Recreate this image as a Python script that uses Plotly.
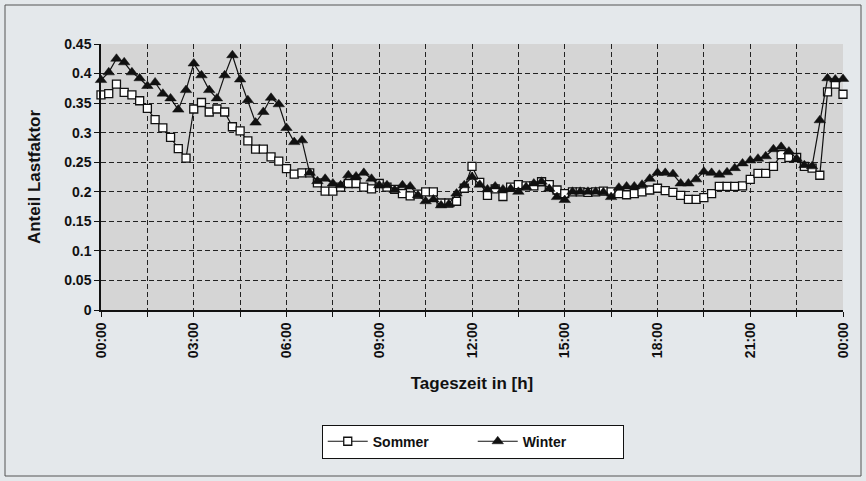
import plotly.graph_objects as go

# time of day in hours, one reading every 15 minutes (00:00 .. 24:00)
hours = [i / 4 for i in range(97)]

sommer = [
    0.364, 0.366, 0.382, 0.368, 0.364, 0.354, 0.341, 0.322, 0.308, 0.292,
    0.273, 0.257, 0.340, 0.351, 0.335, 0.340, 0.335, 0.310, 0.303, 0.286,
    0.272, 0.272, 0.259, 0.252, 0.239, 0.230, 0.232, 0.232, 0.215, 0.201,
    0.201, 0.208, 0.214, 0.214, 0.208, 0.205, 0.214, 0.208, 0.204, 0.197,
    0.193, 0.196, 0.200, 0.200, 0.181, 0.181, 0.184, 0.206, 0.243, 0.216,
    0.194, 0.205, 0.192, 0.208, 0.212, 0.210, 0.210, 0.217, 0.212, 0.203,
    0.197, 0.200, 0.200, 0.199, 0.200, 0.201, 0.200, 0.197, 0.195, 0.197,
    0.200, 0.203, 0.206, 0.202, 0.199, 0.194, 0.187, 0.187, 0.190, 0.197,
    0.209, 0.209, 0.209, 0.210, 0.221, 0.231, 0.231, 0.243, 0.263, 0.258,
    0.258, 0.243, 0.240, 0.228, 0.369, 0.382, 0.365,
]

winter = [
    0.389, 0.402, 0.425, 0.419, 0.402, 0.392, 0.379, 0.385, 0.366, 0.358,
    0.339, 0.372, 0.417, 0.397, 0.372, 0.358, 0.397, 0.431, 0.390, 0.355,
    0.317, 0.335, 0.359, 0.348, 0.308, 0.284, 0.287, 0.232, 0.218, 0.222,
    0.214, 0.211, 0.228, 0.226, 0.232, 0.222, 0.211, 0.211, 0.203, 0.211,
    0.209, 0.194, 0.184, 0.187, 0.177, 0.179, 0.197, 0.211, 0.225, 0.212,
    0.204, 0.209, 0.204, 0.205, 0.200, 0.208, 0.214, 0.217, 0.205, 0.191,
    0.186, 0.200, 0.200, 0.200, 0.200, 0.199, 0.191, 0.207, 0.209, 0.209,
    0.212, 0.222, 0.232, 0.232, 0.230, 0.214, 0.214, 0.221, 0.234, 0.232,
    0.229, 0.233, 0.240, 0.248, 0.253, 0.256, 0.260, 0.272, 0.276, 0.268,
    0.256, 0.245, 0.243, 0.321, 0.392, 0.390, 0.391,
]

tick_vals = [i * 1.5 for i in range(17)]
tick_text = ["00:00", "", "03:00", "", "06:00", "", "09:00", "", "12:00", "",
             "15:00", "", "18:00", "", "21:00", "", "00:00"]

FONT = "Arial, Liberation Sans, sans-serif"

fig = go.Figure()
fig.add_trace(go.Scatter(
    x=hours, y=sommer, name="Sommer", mode="lines+markers",
    line=dict(color="#111111", width=1.2),
    marker=dict(symbol="square", size=8, color="white",
                line=dict(color="#111111", width=1.3)),
    cliponaxis=False,
))
fig.add_trace(go.Scatter(
    x=hours, y=winter, name="Winter", mode="lines+markers",
    line=dict(color="#111111", width=1.2),
    marker=dict(symbol="triangle-up", size=10, color="#111111",
                line=dict(color="#111111", width=0.5)),
    cliponaxis=False,
))

fig.update_layout(
    width=866, height=481,
    margin=dict(l=101, r=23, t=44, b=171, autoexpand=False),
    paper_bgcolor="#e4e8eb",
    plot_bgcolor="#d5d5d5",
    font=dict(family=FONT, size=14, color="#111111", weight="bold"),
    showlegend=True,
    legend=dict(
        orientation="h", x=0.501, xanchor="center", y=-0.495, yanchor="middle",
        bgcolor="white", bordercolor="#111111", borderwidth=1,
        font=dict(family=FONT, size=14, color="#111111", weight="bold"),
        itemwidth=40, entrywidth=95, entrywidthmode="pixels",
        itemclick=False, itemdoubleclick=False,
    ),
    xaxis=dict(
        range=[0, 24], tickmode="array", tickvals=tick_vals, ticktext=tick_text,
        tickangle=-90, ticks="outside", ticklen=5, tickcolor="#111111",
        showline=True, linecolor="#111111", linewidth=1.5,
        showgrid=True, gridcolor="#222222", gridwidth=1, griddash="5px,3px",
        zeroline=False,
        tickfont=dict(family=FONT, size=14, color="#111111", weight="bold"),
        title=dict(text="Tageszeit in [h]", standoff=20,
                   font=dict(family=FONT, size=17, color="#111111", weight="bold")),
    ),
    yaxis=dict(
        range=[0, 0.45], dtick=0.05, tick0=0,
        ticks="outside", ticklen=5, tickcolor="#111111",
        showline=True, linecolor="#111111", linewidth=1.5,
        showgrid=True, gridcolor="#222222", gridwidth=1, griddash="5px,3px",
        zeroline=False,
        tickfont=dict(family=FONT, size=14, color="#111111", weight="bold"),
        title=dict(text="Anteil Lastfaktor", standoff=19,
                   font=dict(family=FONT, size=17, color="#111111", weight="bold")),
    ),
    shapes=[dict(
        type="rect", xref="paper", yref="paper",
        x0=(5 - 101) / 742, x1=(861 - 101) / 742,
        y0=(310 - 476) / 266, y1=(310 - 5) / 266,
        line=dict(color="#555555", width=1), fillcolor="rgba(0,0,0,0)",
        layer="below",
    )],
)

fig.write_html("out.html", config={"displayModeBar": False},
               post_script="document.body.style.margin='0';")
